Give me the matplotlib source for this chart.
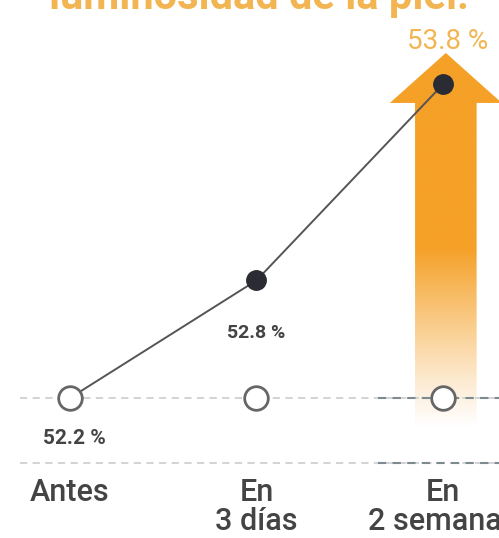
import numpy as np
import matplotlib.pyplot as plt
from matplotlib.patches import Polygon
from matplotlib.colors import LinearSegmentedColormap

# datos
categorias = ["Antes", "En\n3 días", "En\n2 semanas"]
valores = [52.2, 52.8, 53.8]
base = [52.2, 52.2, 52.2]
etiquetas = ["52.2 %", "52.8 %", "53.8 %"]
titulo = "luminosidad de la piel."

naranja = "#F5A027"
gris = "#555555"
oscuro = "#2b2b33"

plt.rcParams['font.family'] = ['Roboto', 'DejaVu Sans']

fig = plt.figure(figsize=(4.99, 5.38), dpi=100)
ax = fig.add_axes([0, 0, 1, 1])
ax.set_xlim(-0.375, 2.30)
ax.set_ylim(51.486, 54.23)
ax.axis("off")

x = np.arange(len(categorias))

# flecha con degradado
cx = x[2] + 0.015
hw, hh = 0.165, 0.30
punta, cuello, pie = 53.96, 53.705, 52.05
verts = [(cx - hw, pie), (cx - hw, cuello), (cx - hh, cuello), (cx, punta),
         (cx + hh, cuello), (cx + hw, cuello), (cx + hw, pie)]
poly = Polygon(verts, closed=True, facecolor="none", edgecolor="none")
ax.add_patch(poly)
cmap = LinearSegmentedColormap.from_list(
    "grad", [(0, "#ffffff"), (0.12, "#fdebd2"), (0.3, "#f9c77e"), (0.48, naranja), (1, naranja)])
grad = np.linspace(0, 1, 256).reshape(-1, 1)
im = ax.imshow(grad, cmap=cmap, origin="lower", aspect="auto",
               extent=[cx - hh, cx + hh, pie, punta], zorder=1)
im.set_clip_path(poly)

# líneas punteadas
for yy in [52.2, 51.87]:
    ax.plot([-0.27, 2.30], [yy, yy], ls=(0, (4, 3)), color="#d0d0d0", lw=1.3, zorder=2)
    ax.plot([1.65, 2.30], [yy, yy], ls=(0, (4, 3)), color="#7d8a90", lw=1.5, zorder=2)

# serie
ax.plot(x, valores, color=gris, lw=1.4, zorder=3)
ax.plot(x, base, ls="none", marker="o", ms=17, mfc="white", mec="#666666", mew=2, zorder=4)
ax.plot(x[1:], valores[1:], ls="none", marker="o", ms=14, mfc=oscuro, mec=oscuro, zorder=5)

# etiquetas de valores
ax.annotate(etiquetas[0], (x[0], valores[0]), xytext=(3, -29), textcoords="offset points",
            ha="center", va="center", fontsize=15, fontweight="bold", color="#444444")
ax.annotate(etiquetas[1], (x[1], valores[1]), xytext=(0, -38), textcoords="offset points",
            ha="center", va="center", fontsize=14, fontweight="bold", color="#444444")
ax.annotate(etiquetas[2], (x[2], valores[2]), xytext=(3, 31), textcoords="offset points",
            ha="center", va="center", fontsize=20, color="#f2b552")

# categorías
for xi, c in zip(x, categorias):
    ax.text(xi, 51.79, c, ha="center", va="top", fontsize=22, color="#444444",
            fontweight="medium", linespacing=1.0)

# título recortado
fig.text(0.52, 1.005, titulo, ha="center", va="center", fontsize=30,
         fontweight="bold", color="#f2b552")

fig.savefig("out.png", dpi=100)
